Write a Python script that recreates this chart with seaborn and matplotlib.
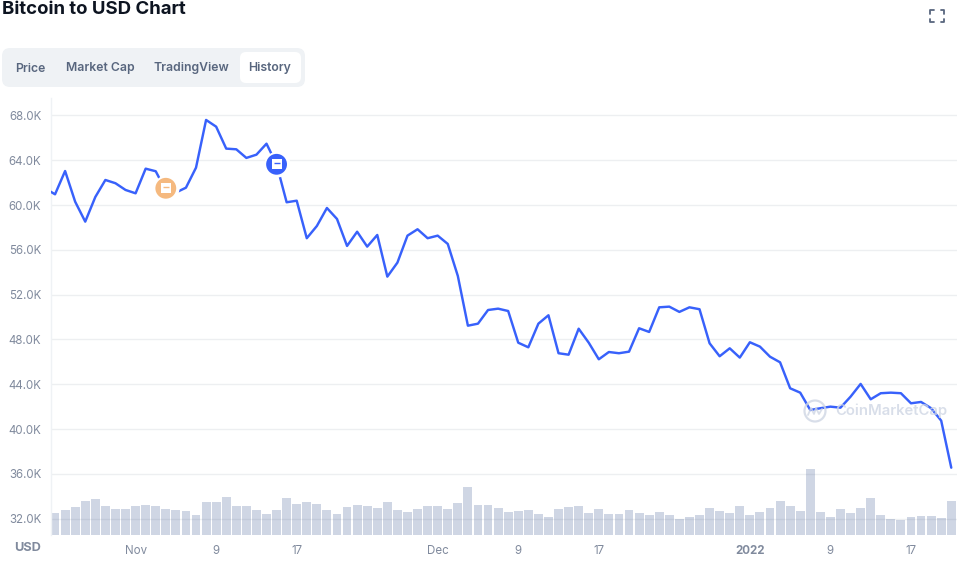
import numpy as np
import pandas as pd
import seaborn as sns
import matplotlib.pyplot as plt
from matplotlib.patches import FancyBboxPatch, Circle

# price in thousand USD, one per day, first value sits just left of the plot edge
line_days = list(range(-1, 90))
prices = [61.5, 60.96, 63.04, 60.30, 58.52, 60.72, 62.24, 61.95, 61.35, 61.05,
          63.25, 63.02, 61.3, 61.12, 61.55, 63.34, 67.60, 67.00, 65.04, 64.98,
          64.21, 64.50, 65.48, 63.64, 60.25, 60.39, 57.04, 58.13, 59.74, 58.76,
          56.35, 57.62, 56.29, 57.33, 53.61, 54.86, 57.27, 57.84, 57.04, 57.27,
          56.53, 53.67, 49.23, 49.41, 50.63, 50.75, 50.54, 47.71, 47.30, 49.41,
          50.16, 46.77, 46.64, 48.96, 47.71, 46.23, 46.88, 46.77, 46.91, 49.00,
          48.67, 50.87, 50.93, 50.46, 50.87, 50.70, 47.66, 46.50, 47.21, 46.38,
          47.75, 47.36, 46.46, 45.96, 43.64, 43.25, 41.70, 41.86, 42.00, 41.91,
          42.89, 44.03, 42.66, 43.20, 43.25, 43.20, 42.30, 42.42, 41.86, 40.75,
          36.55]

bar_days = list(range(0, 90))
volume = [21.7, 25, 28, 34, 36, 29, 26, 26, 29, 30, 29, 26, 25, 24, 19.7, 33,
          33, 38, 29, 29, 25, 20.7, 25, 37, 31, 33, 31, 25, 20.7, 28, 30, 29,
          27, 33, 25, 23, 26, 29, 29, 26, 32, 48.3, 30, 30, 27, 23, 24, 25,
          20.7, 17.7, 26, 28, 29, 21.7, 26, 20.7, 20.7, 25, 21.7, 19.7, 23,
          19.7, 15.7, 17.7, 19.7, 27, 24, 21.7, 29, 19.7, 23, 27, 34, 29, 24,
          66, 23, 17.7, 26, 21.7, 27, 37, 19.7, 15.7, 14.7, 17.7, 18.7, 18.7,
          16.7, 34]

y_ticks = [32, 36, 40, 44, 48, 52, 56, 60, 64, 68]
y_labels = ["32.0K", "36.0K", "40.0K", "44.0K", "48.0K", "52.0K", "56.0K",
            "60.0K", "64.0K", "68.0K"]
x_ticks = [8, 16, 24, 38, 46, 54, 69, 77, 85]
x_labels = ["Nov", "9", "17", "Dec", "9", "17", "2022", "9", "17"]

event_days = [11, 22]
event_prices = [61.5, 63.64]
event_colors = ["#f5b97f", "#3861fb"]

tabs = ["Price", "Market Cap", "TradingView", "History"]
tab_centers = [30, 100, 191, 270]

sns.set_style("white")
plt.rcParams['font.family'] = ['Inter', 'DejaVu Sans']

W, H = 960, 564
fig = plt.figure(figsize=(W / 100, H / 100), dpi=100)
ax = fig.add_axes([51 / W, 1 - 535 / H, 906 / W, 437 / H])
ax_vol = ax.twinx()

# bars go under the price axes
ax.set_zorder(2)
ax_vol.set_zorder(1)
ax.patch.set_visible(False)

sns.barplot(x=bar_days, y=volume, ax=ax_vol, color="#cfd6e4", saturation=1,
            width=0.88, native_scale=True, linewidth=0)
ax_vol.set_ylim(0, 437)
ax_vol.set_yticks([])
ax_vol.set_ylabel("")

sns.lineplot(x=line_days, y=prices, ax=ax, color="#3861fb", linewidth=1.75, zorder=3)

# event markers with a white halo
ax.scatter(event_days, event_prices, s=350, color="white", zorder=4, linewidths=0)
ax.scatter(event_days, event_prices, s=225, color=event_colors, zorder=5, linewidths=0)
ax.scatter(event_days, event_prices, s=50, marker="s", color="white", zorder=6, linewidths=0)
ax.scatter(event_days, [p + 0.14 for p in event_prices], s=18, marker="_",
           color=event_colors, zorder=7, linewidths=1)

ax.set_xlim(-0.4, 89.57)
ax.set_ylim(30.54, 69.56)
ax.set_yticks(y_ticks)
ax.set_yticklabels(y_labels)
ax.set_xticks(x_ticks)
ax.set_xticklabels(x_labels)
ax.set_xlabel("")
ax.set_ylabel("")
ax.grid(axis="y", color="#58667e", alpha=0.1, linewidth=1)
ax.grid(axis="x", visible=False)
ax.tick_params(axis="y", length=0, pad=7, labelsize=8.3, labelcolor="#808a9d")
ax.tick_params(axis="x", length=2.5, width=1, color="#808a9d", pad=5, labelsize=8.3,
               labelcolor="#808a9d")
ax.get_xticklabels()[6].set_fontweight("bold")

for a in [ax, ax_vol]:
    for s in a.spines.values():
        s.set_visible(False)
ax.spines["left"].set_visible(True)
ax.spines["left"].set_color("#eff2f5")
ax.spines["left"].set_linewidth(1)

# page furniture in pixel coordinates
over = fig.add_axes([0, 0, 1, 1], zorder=10)
over.set_xlim(0, W)
over.set_ylim(H, 0)
over.axis("off")

over.text(2, 9, "Bitcoin to USD Chart", fontsize=13.4, fontweight="bold",
          color="#0d1421", va="center", ha="left")

over.add_patch(FancyBboxPatch((2, 48), 303, 39, boxstyle="round,pad=0,rounding_size=8",
                              fc="#eff2f5", ec="none"))
over.add_patch(FancyBboxPatch((240, 52), 61, 31, boxstyle="round,pad=0,rounding_size=6",
                              fc="white", ec="none"))
for name, cx in zip(tabs, tab_centers):
    over.text(cx, 71.5, name, fontsize=8.8, fontweight="semibold", color="#58667e",
              ha="center", va="baseline")

over.text(41, 548, "USD", fontsize=9.2, fontweight="bold", color="#808a9d",
          ha="right", va="center")

# fullscreen icon corners
for cx, cy, dx, dy in [(930, 10, 1, 1), (944, 10, -1, 1), (930, 22, 1, -1), (944, 22, -1, -1)]:
    over.plot([cx + 3.5 * dx, cx, cx], [cy, cy, cy + 3.5 * dy], color="#58667e", lw=1.3,
              solid_capstyle="round")

# watermark
wm = "#cfd6e4"
over.add_patch(Circle((815, 411), 10.5, fc="none", ec=wm, lw=1.6, alpha=0.8))
over.plot([808, 811, 814, 816, 819, 822], [415, 408, 414, 408, 414, 409], color=wm, lw=1.3, alpha=0.8)
over.text(835, 411, "CoinMarketCap", fontsize=10.7, fontweight="semibold", color=wm,
          alpha=0.8, ha="left", va="center")

fig.savefig("out.png", dpi=100)
